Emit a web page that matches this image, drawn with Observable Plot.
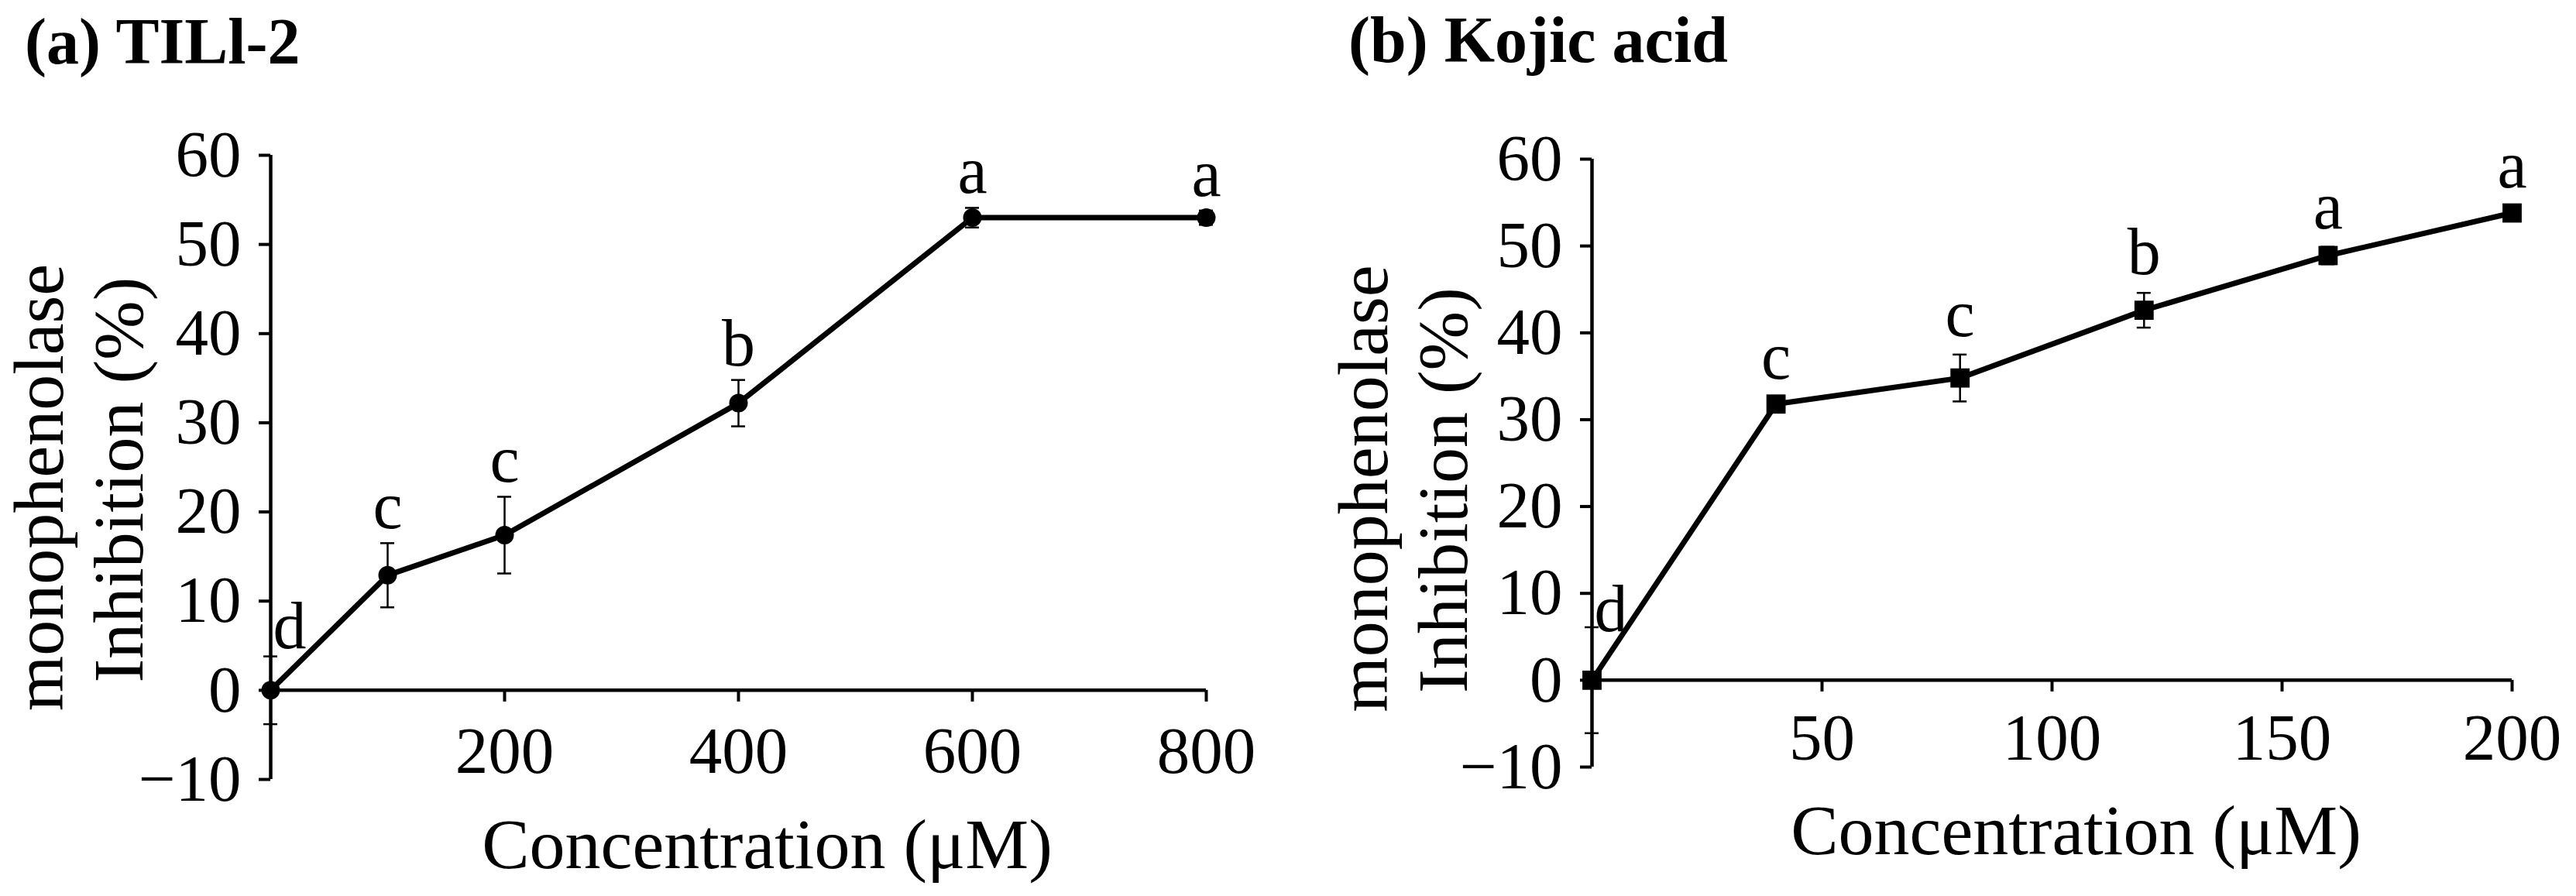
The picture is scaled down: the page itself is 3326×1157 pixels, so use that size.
<!DOCTYPE html>
<html>
<head>
<meta charset="utf-8">
<script src="https://cdn.jsdelivr.net/npm/d3@7"></script>
<script src="https://cdn.jsdelivr.net/npm/@observablehq/plot@0.6"></script>
<style>
  html, body { margin: 0; padding: 0; background: #fff; }
  #wrap { position: relative; width: 3326px; height: 1157px; overflow: hidden; background: #fff;
          font-family: 'Liberation Serif', 'Times New Roman', serif; color: #000; }
  .panel { position: absolute; top: 0; z-index: 1; }
  .ptitle { position: absolute; z-index: 5; font-weight: bold; font-size: 84px; line-height: 1; white-space: nowrap; }
</style>
</head>
<body>
<div id="wrap">
  <div class="panel" id="panelA" style="left:0px; width:1660px;"></div>
  <div class="panel" id="panelB" style="left:1660px; width:1666px;"></div>
  <div class="ptitle" id="titleA" style="left:32px; top:12px;"></div>
  <div class="ptitle" id="titleB" style="left:1741px; top:10px;"></div>
</div>
<script>
// ---------- data ----------
const titleA = "(a) TILl-2";
const titleB = "(b) Kojic acid";
const xTitle = "Concentration (μM)";
const yTitle1 = "monophenolase";
const yTitle2 = "Inhibition (%)";

const concA = [0, 100, 200, 400, 600, 800];
const inhA = [0, 12.9, 17.4, 32.2, 53.0, 53.0];
const errA = [3.8, 3.6, 4.3, 2.6, 1.1, 0.8];
const letA = ["d", "c", "c", "b", "a", "a"];
const xTicksA = [200, 400, 600, 800];

const concB = [0, 40, 80, 120, 160, 200];
const inhB = [0, 31.8, 34.8, 42.6, 48.9, 53.8];
const errB = [6.1, 0.8, 2.7, 2.0, 1.0, 0.8];
const letB = ["d", "c", "c", "b", "a", "a"];
const xTicksB = [50, 100, 150, 200];

const yTicks = [-10, 0, 10, 20, 30, 40, 50, 60];
const yDomain = [-10, 60];

// ---------- drawing ----------
const FONT = "'Liberation Serif', 'Times New Roman', serif";
const fmtY = d => d < 0 ? "\u2212" + Math.abs(d) : String(d);

function makePanel(cfg) {
  const data = cfg.conc.map((c, i) => ({x: c, y: cfg.inh[i], e: cfg.err[i], t: cfg.letters[i]}));
  const atZero = data.filter(d => d.x === 0);
  const others = data.filter(d => d.x !== 0);
  const xMax = cfg.xDomain[1];
  return Plot.plot({
    width: cfg.width,
    height: 1157,
    marginLeft: cfg.marginLeft,
    marginRight: cfg.marginRight,
    marginTop: cfg.marginTop,
    marginBottom: cfg.marginBottom,
    x: {domain: cfg.xDomain, axis: null},
    y: {domain: yDomain, axis: null},
    style: {fontFamily: FONT, fontSize: "85px", overflow: "visible", background: "white", color: "black"},
    marks: [
      // axis lines
      Plot.ruleX([0], {x: d => d, y1: () => yDomain[0], y2: () => yDomain[1], strokeWidth: 4.5, stroke: "black"}),
      Plot.ruleY([0], {y: d => d, x1: () => 0, x2: () => xMax, strokeWidth: 4.5, stroke: "black"}),
      // y ticks (outward, left)
      Plot.ruleY(yTicks, {y: d => d, x1: () => 0, x2: () => 0, insetLeft: -15, strokeWidth: 4, stroke: "black"}),
      // x ticks (downward)
      Plot.ruleX(cfg.xTicks, {x: d => d, y1: () => 0, y2: () => 0, insetBottom: -15, strokeWidth: 4, stroke: "black"}),
      // y tick labels
      Plot.text(yTicks, {x: () => 0, y: d => d, text: fmtY, textAnchor: "end", lineAnchor: "middle", dx: -38, fontSize: 85}),
      // x tick labels
      Plot.text(cfg.xTicks, {x: d => d, y: () => 0, text: d => String(d), lineAnchor: "top", dy: cfg.xLabelDy, fontSize: 85}),
      // error bars
      Plot.ruleX(data, {x: "x", y1: d => d.y - d.e, y2: d => d.y + d.e, strokeWidth: 2.5, stroke: "black"}),
      Plot.ruleY(data, {y: d => d.y + d.e, x1: "x", x2: "x", insetLeft: -9, insetRight: -9, strokeWidth: 2.5, stroke: "black"}),
      Plot.ruleY(data, {y: d => d.y - d.e, x1: "x", x2: "x", insetLeft: -9, insetRight: -9, strokeWidth: 2.5, stroke: "black"}),
      // series line and markers
      Plot.line(data, {x: "x", y: "y", stroke: "black", strokeWidth: 7}),
      Plot.dot(data, {x: "x", y: "y", symbol: cfg.symbol, r: cfg.r, fill: "black", stroke: null}),
      // significance letters
      Plot.text(others, {x: "x", y: d => d.y + d.e, text: "t", lineAnchor: "bottom", dy: cfg.letterDy, fontSize: 86}),
      Plot.text(atZero, {x: "x", y: "y", text: "t", textAnchor: "start", lineAnchor: "bottom", dx: 3, dy: cfg.dLetterDy, fontSize: 86}),
      // axis titles
      Plot.text([xTitle], {text: d => d, frameAnchor: "bottom", textAnchor: "middle", lineAnchor: "bottom", dx: cfg.xTitleDx, dy: cfg.xTitleDy, fontSize: 92}),
      Plot.text([yTitle1], {text: d => d, frameAnchor: "left", textAnchor: "middle", lineAnchor: "bottom", rotate: -90, dx: cfg.yT1dx, dy: cfg.yT1dy, fontSize: 92}),
      Plot.text([yTitle2], {text: d => d, frameAnchor: "left", textAnchor: "middle", lineAnchor: "bottom", rotate: -90, dx: cfg.yT2dx, dy: cfg.yT2dy, fontSize: 92})
    ]
  });
}

document.getElementById("titleA").textContent = titleA;
document.getElementById("titleB").textContent = titleB;

document.getElementById("panelA").append(makePanel({
  conc: concA, inh: inhA, err: errA, letters: letA, xTicks: xTicksA, xDomain: [0, 800],
  width: 1660, marginLeft: 349, marginRight: 103, marginTop: 200, marginBottom: 151,
  symbol: "circle", r: 12, letterDy: -19, dLetterDy: -54,
  xLabelDy: 46, xTitleDx: 37, xTitleDy: 114,
  yT1dx: -269, yT1dy: 26, yT2dx: -166, yT2dy: 16
}));

document.getElementById("panelB").append(makePanel({
  conc: concB, inh: inhB, err: errB, letters: letB, xTicks: xTicksB, xDomain: [0, 200],
  width: 1666, marginLeft: 395, marginRight: 83, marginTop: 205, marginBottom: 167,
  symbol: "square", r: 14, letterDy: -24, dLetterDy: -63,
  xLabelDy: 42, xTitleDx: 31, xTitleDy: 112,
  yT1dx: -265, yT1dy: 33, yT2dx: -162, yT2dy: 35
}));
</script>
</body>
</html>
